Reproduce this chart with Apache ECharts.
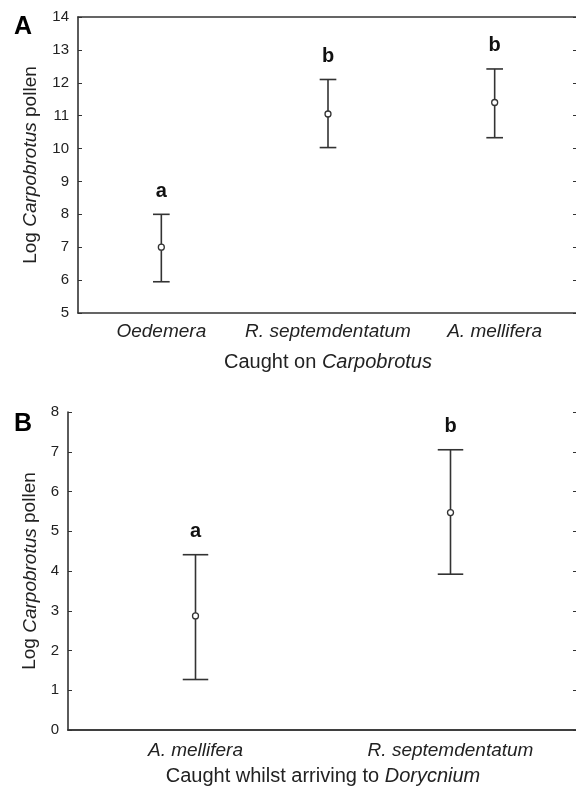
<!DOCTYPE html>
<html>
<head>
<meta charset="utf-8">
<script src="https://cdn.jsdelivr.net/npm/echarts@6/dist/echarts.min.js"></script>
<style>
  html, body { margin: 0; padding: 0; background: #fff; }
  #chart { width: 576px; height: 791px; }
</style>
</head>
<body>
<div id="chart"></div>
<script>
// panel A: caught on Carpobrotus
var catsA = ['Oedemera', 'R. septemdentatum', 'A. mellifera']
var meanA = [7.0, 11.05, 11.4]
var lowA = [5.95, 10.03, 10.33]
var highA = [8.0, 12.1, 12.42]
var lettersA = ['a', 'b', 'b']

// panel B: caught whilst arriving to Dorycnium
var catsB = ['A. mellifera', 'R. septemdentatum']
var meanB = [2.87, 5.47]
var lowB = [1.27, 3.92]
var highB = [4.41, 7.05]
var lettersB = ['a', 'b']

var ink = '#333'
var font = 'Arial, "Liberation Sans", sans-serif'

function rows(mean, low, high) {
  return mean.map(function(m, i) {
    return [i, m, low[i], high[i]]
  })
}

function errorBars(letters) {
  return function(params, api) {
    var mid = api.coord([api.value(0), api.value(1)])
    var lo = api.coord([api.value(0), api.value(2)])
    var hi = api.coord([api.value(0), api.value(3)])
    var half = api.size([1, 0])[0] * 0.05
    var line = { stroke: ink, lineWidth: 1.6 }
    return {
      type: 'group',
      children: [
        { type: 'line', shape: { x1: lo[0], y1: lo[1], x2: hi[0], y2: hi[1] }, style: line },
        { type: 'line', shape: { x1: lo[0] - half, y1: lo[1], x2: lo[0] + half, y2: lo[1] }, style: line },
        { type: 'line', shape: { x1: hi[0] - half, y1: hi[1], x2: hi[0] + half, y2: hi[1] }, style: line },
        { type: 'circle', shape: { cx: mid[0], cy: mid[1], r: 3 }, style: { fill: '#fff', stroke: ink, lineWidth: 1.3 } },
        {
          type: 'text',
          style: {
            x: hi[0], y: hi[1] - 23, text: letters[params.dataIndex],
            align: 'center', verticalAlign: 'middle',
            font: 'bold 20px ' + font, fill: '#111'
          }
        }
      ]
    }
  }
}

function leftAxis(grid, min, max, gap) {
  return {
    type: 'value', gridIndex: grid, min: min, max: max, interval: 1,
    name: 'Log {i|Carpobrotus} pollen', nameLocation: 'middle', nameGap: gap,
    nameTextStyle: { fontFamily: font, fontSize: 19, color: '#222', rich: { i: { fontStyle: 'italic', fontFamily: font, fontSize: 19, color: '#222' } } },
    axisLine: { show: true, lineStyle: { color: ink, width: 1.6 } },
    axisTick: { show: true, inside: true, length: 4, lineStyle: { color: ink } },
    axisLabel: { fontFamily: font, fontSize: 15, color: '#222', margin: 9 },
    splitLine: { show: false }
  }
}

// the right frame edge sits just past the window; only its inward ticks show
function rightAxis(grid, min, max) {
  return {
    type: 'value', gridIndex: grid, position: 'right', min: min, max: max, interval: 1,
    axisLine: { show: true, lineStyle: { color: ink, width: 1.6 } },
    axisTick: { show: true, inside: true, length: 5, lineStyle: { color: ink } },
    axisLabel: { show: false },
    splitLine: { show: false }
  }
}

function bottomAxis(grid, cats, name, margin, gap) {
  return {
    type: 'category', gridIndex: grid, data: cats,
    name: name, nameLocation: 'middle', nameGap: gap,
    nameTextStyle: { fontFamily: font, fontSize: 20, color: '#222', rich: { i: { fontStyle: 'italic', fontFamily: font, fontSize: 20, color: '#222' } } },
    axisLine: { show: true, lineStyle: { color: ink, width: 1.6 } },
    axisTick: { show: false },
    axisLabel: { fontFamily: font, fontSize: 19, fontStyle: 'italic', color: '#222', margin: margin, interval: 0 },
    splitLine: { show: false }
  }
}

function topAxis(grid, cats) {
  return {
    type: 'category', gridIndex: grid, data: cats, position: 'top',
    axisLine: { show: true, lineStyle: { color: ink, width: 1.6 } },
    axisTick: { show: false },
    axisLabel: { show: false }
  }
}

var chart = echarts.init(document.getElementById('chart'))
chart.setOption({
  animation: false,
  backgroundColor: '#fff',
  title: [
    { text: 'A', left: 9, top: 10, textStyle: { fontFamily: font, fontSize: 25, fontWeight: 'bold', color: '#000' } },
    { text: 'B', left: 9, top: 407, textStyle: { fontFamily: font, fontSize: 25, fontWeight: 'bold', color: '#000' } }
  ],
  grid: [
    { left: 78, top: 17, width: 500, height: 296, outerBoundsMode: 'none' },
    { left: 68, top: 412, width: 510, height: 318, outerBoundsMode: 'none' }
  ],
  xAxis: [
    bottomAxis(0, catsA, 'Caught on {i|Carpobrotus}', 9, 39),
    topAxis(0, catsA),
    bottomAxis(1, catsB, 'Caught whilst arriving to {i|Dorycnium}', 11, 36),
    topAxis(1, catsB)
  ],
  yAxis: [
    leftAxis(0, 5, 14, 38),
    rightAxis(0, 5, 14),
    leftAxis(1, 0, 8, 28),
    rightAxis(1, 0, 8)
  ],
  series: [
    {
      type: 'custom', xAxisIndex: 0, yAxisIndex: 0,
      renderItem: errorBars(lettersA),
      data: rows(meanA, lowA, highA)
    },
    {
      type: 'custom', xAxisIndex: 2, yAxisIndex: 2,
      renderItem: errorBars(lettersB),
      data: rows(meanB, lowB, highB)
    }
  ]
})
</script>
</body>
</html>
